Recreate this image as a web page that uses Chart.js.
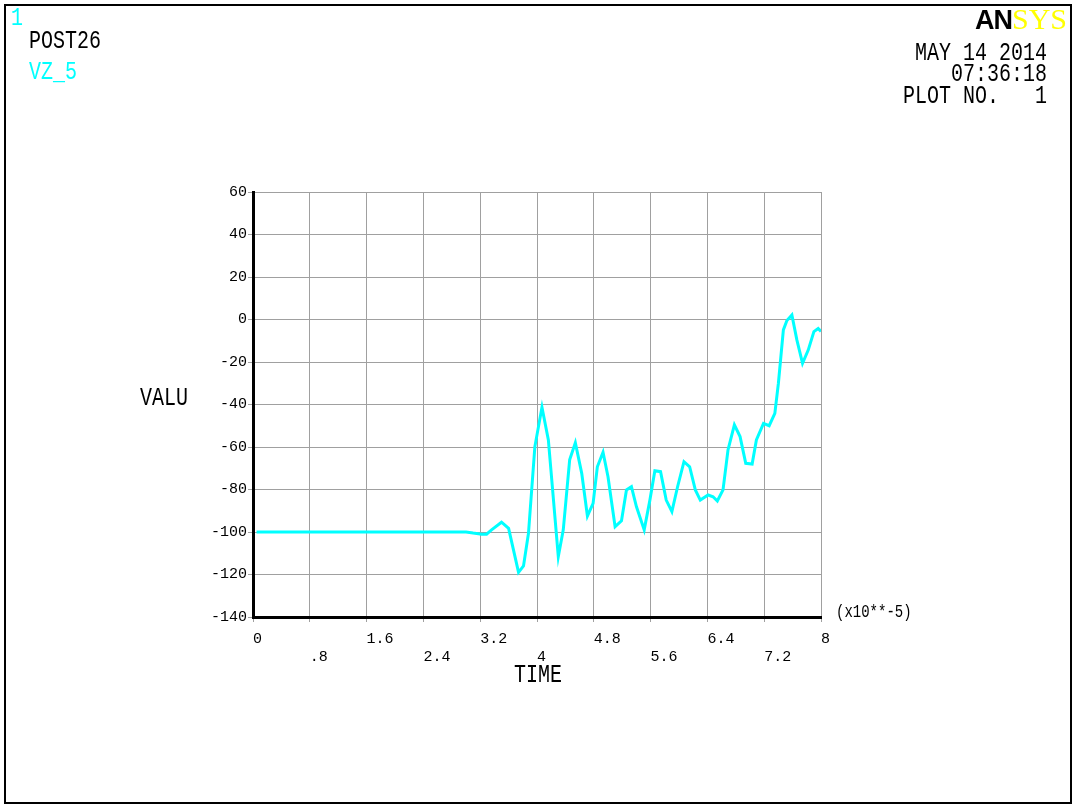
<!DOCTYPE html>
<html>
<head>
<meta charset="utf-8">
<script src="https://cdn.jsdelivr.net/npm/chart.js@4.4.1/dist/chart.umd.min.js"></script>
<style>
  html, body { margin: 0; padding: 0; background: #fff; }
  #wrap { position: relative; width: 1077px; height: 810px; overflow: hidden; }
  #frame { position: absolute; left: 4px; top: 4px; width: 1064px; height: 796px; border: 2px solid #000; pointer-events: none; }
  canvas { position: absolute; left: 0; top: 0; }
  .t { position: absolute; font-family: "Liberation Mono", "DejaVu Sans Mono", monospace; font-size: 20px; line-height: 20px; white-space: pre; transform: scaleY(1.3); transform-origin: 50% 50%; }
  .r { text-align: right; }
  #logo { position: absolute; right: 10px; top: 5px; line-height: 28px; white-space: nowrap; }
  #logo .an { font-family: "Liberation Sans", Arial, sans-serif; font-weight: 900; font-size: 27px; color: #000; letter-spacing: -1px; }
  #logo .sys { font-family: "Liberation Serif", "Times New Roman", serif; font-size: 30px; color: #ffff00; }
</style>
</head>
<body>
<div id="wrap">
  <canvas id="c" width="1077" height="810"></canvas>
  <div id="frame"></div>
  <div class="t" style="left:11px;top:8px;color:#00ffff;">1</div>
  <div class="t" style="left:29px;top:31px;color:#000;">POST26</div>
  <div class="t" style="left:29px;top:62px;color:#00ffff;">VZ_5</div>
  <div id="logo"><span class="an">AN</span><span class="sys">SYS</span></div>
  <div class="t r" style="right:30px;top:43px;color:#000;">MAY 14 2014</div>
  <div class="t r" style="right:30px;top:64px;color:#000;">07:36:18</div>
  <div class="t r" style="right:30px;top:86px;color:#000;">PLOT NO.   1</div>
  <div class="t" style="left:140px;top:388px;color:#000;">VALU</div>
  <div class="t" style="left:514px;top:665px;color:#000;">TIME</div>
  <div class="t" style="left:836px;top:605px;font-size:14px;line-height:14px;color:#000;">(x10**-5)</div>
</div>
<script>
// Time in units of 1e-5 s
const timeValues = [0.05, 3.0, 3.1, 3.22, 3.29, 3.36, 3.50, 3.60, 3.74, 3.81, 3.88, 3.97, 4.07, 4.16, 4.30, 4.37, 4.46, 4.54, 4.63, 4.71, 4.79, 4.85, 4.93, 5.00, 5.10, 5.19, 5.26, 5.33, 5.40, 5.51, 5.59, 5.66, 5.74, 5.82, 5.90, 5.98, 6.07, 6.15, 6.23, 6.30, 6.41, 6.48, 6.54, 6.62, 6.69, 6.78, 6.86, 6.94, 7.03, 7.09, 7.19, 7.27, 7.35, 7.40, 7.47, 7.52, 7.59, 7.66, 7.74, 7.82, 7.90, 7.96, 8.00];
// VZ_5 values
const vzValues = [-100, -100, -100.5, -101, -101, -99, -95.4, -98.3, -119, -116, -100.6, -59.8, -41.3, -56.7, -111.6, -99, -66, -58, -72.4, -92.5, -86.5, -69.3, -62.5, -74, -97.5, -94.7, -80.2, -78.7, -88, -99, -85, -71.2, -71.6, -85, -90.4, -78.7, -66.9, -69.3, -80.2, -85, -82.6, -83.4, -85.4, -80.2, -61.4, -49.6, -55.1, -67.7, -68, -56.7, -48.9, -50, -44.2, -30, -4.9, -0.5, 2.1, -9.6, -20.6, -14.4, -5.7, -4.2, -5.7];

const xTickValues = [0, 0.8, 1.6, 2.4, 3.2, 4.0, 4.8, 5.6, 6.4, 7.2, 8.0];
const xTickLabels = ['0', '.8', '1.6', '2.4', '3.2', '4', '4.8', '5.6', '6.4', '7.2', '8'];
const yTickValues = [-140, -120, -100, -80, -60, -40, -20, 0, 20, 40, 60];
const yTickLabels = ['-140', '-120', '-100', '-80', '-60', '-40', '-20', '0', '20', '40', '60'];

const points = timeValues.map((t, i) => ({ x: t, y: vzValues[i] }));
const tickFont = { family: '"Liberation Mono", "DejaVu Sans Mono", monospace', size: 15 };

new Chart(document.getElementById('c'), {
  type: 'line',
  data: {
    datasets: [{
      label: 'VZ_5',
      data: points,
      borderColor: '#00ffff',
      borderWidth: 3,
      pointRadius: 0,
      tension: 0,
      fill: false
    }]
  },
  options: {
    responsive: false,
    animation: false,
    devicePixelRatio: 1,
    layout: { padding: { left: 193, right: 256, top: 192, bottom: 133 } },
    plugins: { legend: { display: false }, tooltip: { enabled: false } },
    scales: {
      x: {
        type: 'linear',
        min: 0, max: 8,
        afterBuildTicks: s => { s.ticks = xTickValues.map(v => ({ value: v })); },
        afterFit: s => { s.height = 60; },
        grid: { color: '#a0a0a0', lineWidth: 1, tickLength: 5, drawTicks: true },
        border: { color: '#000', width: 3 },
        ticks: {
          font: tickFont, color: '#000', padding: 8, align: 'start', maxRotation: 0, autoSkip: false,
          callback: (v, i) => (i % 2 === 0 ? [xTickLabels[i], ''] : ['', xTickLabels[i]])
        }
      },
      y: {
        type: 'linear',
        min: -140, max: 60,
        afterBuildTicks: s => { s.ticks = yTickValues.map(v => ({ value: v })); },
        afterFit: s => { s.width = 60; },
        grid: { color: '#a0a0a0', lineWidth: 1, tickLength: 5, drawTicks: true },
        border: { color: '#000', width: 3 },
        ticks: {
          font: tickFont, color: '#000', padding: 1, autoSkip: false,
          callback: (v, i) => yTickLabels[i]
        }
      }
    }
  }
});
</script>
</body>
</html>
